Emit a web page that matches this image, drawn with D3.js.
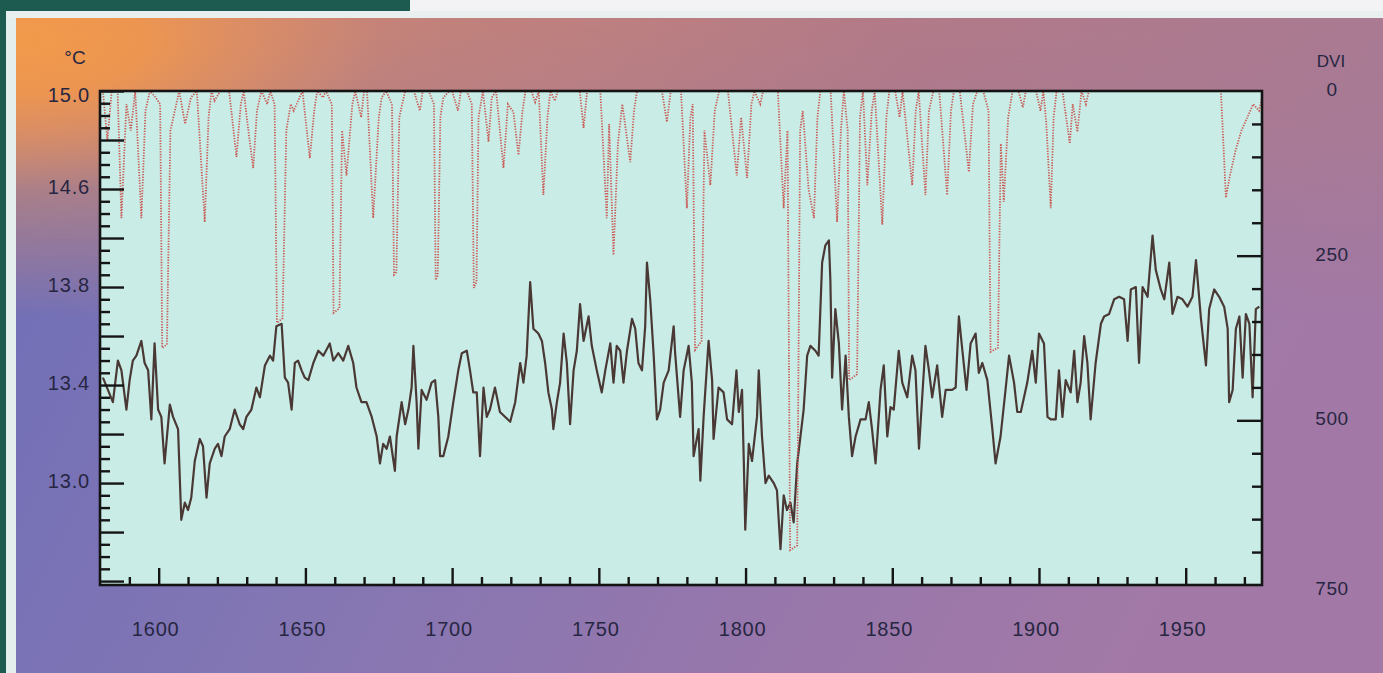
<!DOCTYPE html>
<html>
<head>
<meta charset="utf-8">
<script src="https://cdn.jsdelivr.net/npm/d3@7"></script>
<style>
html, body { margin: 0; padding: 0; overflow: hidden; background: #f3f2f5; }
text { font-family: "Liberation Sans", Arial, sans-serif; fill: #272642; }
</style>
</head>
<body>
<svg width="1383" height="673"></svg>
<script>
// temperature (deg C): [year, value]
const tempSeries = [
  [1581.0,13.43],[1584.4,13.33],[1586.1,13.50],[1587.3,13.46],[1589.0,13.30],[1590.1,13.42],[1591.2,13.50],[1592.4,13.52],
  [1594.1,13.58],[1595.2,13.49],[1596.4,13.46],[1597.5,13.26],[1598.6,13.57],[1599.8,13.30],[1600.9,13.27],[1602.0,13.08],
  [1603.8,13.32],[1604.9,13.27],[1606.6,13.22],[1607.7,12.85],[1608.9,12.92],[1610.0,12.89],[1611.1,12.94],[1612.3,13.09],
  [1614.0,13.18],[1615.1,13.15],[1616.3,12.94],[1617.4,13.08],[1619.1,13.14],[1620.2,13.16],[1621.4,13.11],[1622.5,13.19],
  [1624.2,13.22],[1625.9,13.30],[1627.6,13.24],[1628.8,13.22],[1629.9,13.27],[1631.6,13.30],[1633.3,13.39],[1634.5,13.35],
  [1636.2,13.48],[1637.9,13.52],[1639.0,13.50],[1640.1,13.64],[1641.9,13.65],[1643.0,13.43],[1644.1,13.41],[1645.3,13.30],
  [1646.4,13.49],[1647.5,13.50],[1648.7,13.46],[1649.8,13.43],[1651.0,13.42],[1652.7,13.49],[1654.4,13.54],[1656.1,13.52],
  [1658.3,13.57],[1659.5,13.50],[1661.2,13.53],[1662.9,13.50],[1664.6,13.56],[1666.3,13.49],[1667.4,13.39],[1669.1,13.33],
  [1670.8,13.33],[1672.6,13.27],[1674.3,13.19],[1675.4,13.08],[1676.5,13.16],[1677.7,13.14],[1678.8,13.19],[1680.5,13.05],
  [1681.1,13.19],[1682.8,13.33],[1684.0,13.24],[1685.1,13.30],[1686.2,13.39],[1686.8,13.56],[1687.9,13.33],[1688.5,13.14],
  [1689.6,13.38],[1691.3,13.34],[1693.0,13.41],[1694.2,13.42],[1695.3,13.27],[1695.9,13.11],[1697.0,13.11],[1698.7,13.19],
  [1700.4,13.33],[1702.1,13.46],[1703.3,13.53],[1705.0,13.54],[1706.1,13.46],[1707.2,13.37],[1708.4,13.37],[1709.5,13.11],
  [1710.7,13.39],[1711.8,13.27],[1712.9,13.30],[1714.6,13.39],[1716.3,13.29],[1719.8,13.25],[1721.5,13.33],[1723.2,13.49],
  [1724.3,13.41],[1725.4,13.52],[1726.6,13.82],[1727.7,13.63],[1729.4,13.61],[1730.6,13.58],[1731.7,13.49],[1732.8,13.37],
  [1734.0,13.30],[1734.5,13.22],[1735.7,13.33],[1736.8,13.41],[1738.0,13.61],[1739.1,13.49],[1740.2,13.24],[1741.4,13.46],
  [1742.5,13.54],[1743.6,13.73],[1744.8,13.58],[1746.5,13.68],[1747.6,13.56],[1749.3,13.46],[1751.0,13.37],[1752.2,13.46],
  [1753.9,13.57],[1755.0,13.41],[1756.1,13.56],[1757.3,13.54],[1758.4,13.41],[1759.6,13.54],[1761.3,13.67],[1762.4,13.63],
  [1763.5,13.49],[1764.7,13.46],[1765.8,13.64],[1766.4,13.90],[1767.5,13.75],[1768.7,13.52],[1769.8,13.26],[1770.9,13.30],
  [1772.1,13.41],[1773.8,13.46],[1775.5,13.64],[1776.0,13.53],[1777.7,13.27],[1778.9,13.46],[1780.6,13.56],[1781.7,13.41],
  [1782.3,13.11],[1784.0,13.22],[1784.6,13.01],[1785.7,13.27],[1787.4,13.58],[1788.6,13.42],[1789.1,13.18],[1790.8,13.39],
  [1792.5,13.37],[1793.7,13.26],[1795.4,13.24],[1796.9,13.46],[1797.7,13.29],[1798.8,13.38],[1799.4,13.09],[1799.9,12.81],
  [1801.1,13.16],[1802.2,13.09],[1803.9,13.27],[1804.5,13.46],[1805.6,13.19],[1806.8,13.00],[1807.9,13.03],[1809.6,13.00],
  [1810.7,12.97],[1811.9,12.73],[1813.0,12.95],[1814.1,12.89],[1815.3,12.92],[1816.4,12.84],[1817.6,13.08],[1818.7,13.19],
  [1819.8,13.30],[1821.0,13.52],[1822.1,13.56],[1823.8,13.54],[1824.9,13.52],[1826.1,13.90],[1827.2,13.97],[1828.4,13.99],
  [1828.9,13.83],[1829.5,13.43],[1830.6,13.71],[1831.8,13.57],[1832.9,13.30],[1834.1,13.52],[1835.2,13.27],[1836.3,13.11],
  [1837.5,13.19],[1839.2,13.26],[1840.9,13.26],[1842.0,13.33],[1843.1,13.22],[1844.3,13.08],[1845.4,13.27],[1846.0,13.38],
  [1847.1,13.48],[1848.3,13.19],[1849.4,13.31],[1850.5,13.30],[1852.2,13.54],[1853.4,13.41],[1855.1,13.35],[1856.8,13.52],
  [1857.9,13.46],[1859.1,13.14],[1860.2,13.35],[1861.3,13.56],[1862.5,13.46],[1863.6,13.35],[1865.3,13.48],[1867.0,13.27],
  [1868.2,13.38],[1870.4,13.38],[1871.6,13.39],[1872.7,13.68],[1873.9,13.54],[1875.3,13.38],[1876.7,13.57],[1878.4,13.61],
  [1879.5,13.45],[1880.7,13.49],[1882.4,13.42],[1884.1,13.22],[1885.2,13.08],[1886.9,13.19],[1888.6,13.38],[1889.8,13.52],
  [1891.5,13.41],[1892.6,13.29],[1893.8,13.29],[1896.0,13.41],[1897.7,13.54],[1898.9,13.41],[1900.0,13.61],[1901.7,13.57],
  [1902.9,13.27],[1904.0,13.26],[1905.7,13.26],[1906.8,13.46],[1908.0,13.27],[1909.1,13.42],[1910.8,13.37],[1912.0,13.54],
  [1913.1,13.33],[1914.2,13.41],[1915.4,13.60],[1916.5,13.49],[1917.6,13.26],[1919.3,13.49],[1921.1,13.65],[1922.2,13.68],
  [1923.9,13.69],[1925.6,13.75],[1927.3,13.76],[1929.0,13.75],[1930.2,13.58],[1931.3,13.79],[1933.0,13.80],[1934.1,13.49],
  [1935.3,13.80],[1937.0,13.76],[1938.7,14.01],[1939.8,13.87],[1941.5,13.79],[1942.7,13.75],[1944.4,13.90],[1945.5,13.69],
  [1947.2,13.76],[1948.9,13.75],[1950.6,13.72],[1952.3,13.76],[1953.5,13.91],[1955.2,13.67],[1956.9,13.48],[1958.0,13.71],
  [1959.7,13.79],[1961.4,13.76],[1963.1,13.72],[1964.3,13.63],[1964.8,13.33],[1966.0,13.38],[1967.1,13.63],[1968.3,13.68],
  [1969.4,13.43],[1970.5,13.69],[1971.7,13.65],[1972.8,13.35],[1973.9,13.71],[1975.1,13.72]
];

// dust veil index: [year, DVI]
const dviSeries = [
  [1580,0],[1581,0],[1582.5,75],[1584,0],[1586,0],[1587.3,193],[1589,20],[1590.5,60],[1592,0],[1594.1,193],[1595.5,30],
  [1597,0],[1599,10],[1600.5,20],[1601.2,390],[1602.8,385],[1604,60],[1606,20],[1607,0],[1609,50],[1611,10],[1613,0],
  [1615.7,199],[1617,40],[1618,0],[1619,15],[1621,0],[1624,0],[1626.5,100],[1628,20],[1629,0],[1630,40],[1632.2,117],
  [1633.5,30],[1635,0],[1637,20],[1638,0],[1639.5,20],[1640.3,352],[1642.2,345],[1643.5,60],[1645,20],[1646,30],[1648,10],
  [1649,0],[1651.5,102],[1653,30],[1654,0],[1656,10],[1657,0],[1659,20],[1659.6,337],[1661.6,330],[1662.5,60],[1664,128],
  [1666,20],[1667,0],[1669,40],[1670,0],[1671,0],[1673.1,193],[1675,40],[1676,10],[1677.5,0],[1679.5,20],[1680.2,279],
  [1681,275],[1682,40],[1684,0],[1687,0],[1689,30],[1690,0],[1692,0],[1693.8,20],[1694.4,287],[1695.1,280],[1696,40],
  [1697,10],[1699,0],[1700,0],[1702,30],[1703,0],[1705,0],[1706.7,20],[1707.4,299],[1708.3,290],[1709,40],[1710.5,0],
  [1712.4,77],[1713.5,10],[1715,0],[1717.5,117],[1719,20],[1720.9,32],[1722.6,97],[1724,30],[1725,0],[1727,0],[1728.3,17],
  [1729.5,0],[1731.1,158],[1732.5,40],[1733.5,0],[1735,15],[1736,0],[1743.5,0],[1744.8,56],[1746,0],[1750.5,0],[1752.7,193],
  [1753.5,50],[1755,249],[1756.5,80],[1758,20],[1760.7,108],[1762,30],[1763,0],[1771.5,0],[1773.2,47],[1774.5,0],[1778,0],
  [1780,178],[1781.2,40],[1782,20],[1782.8,393],[1785,380],[1786,60],[1788,143],[1789.5,30],[1791,0],[1794,0],[1797,128],
  [1798.5,40],[1800.5,132],[1802,20],[1803,0],[1805,20],[1806,0],[1811,0],[1813,178],[1814.3,60],[1815.2,697],[1817.6,690],
  [1818.6,60],[1819.5,30],[1821.5,150],[1823.3,193],[1824.5,40],[1825.5,0],[1829,0],[1831.2,199],[1832.5,60],[1833.5,0],
  [1834.8,60],[1835.3,439],[1838,430],[1839,40],[1840,0],[1841.5,143],[1843,30],[1844,0],[1846.6,203],[1848,40],[1849,0],
  [1851,0],[1852.5,40],[1853.5,0],[1856.8,143],[1858,30],[1859,0],[1861.3,158],[1862.5,30],[1864,0],[1866,0],[1868.7,158],
  [1870,30],[1871,0],[1873,0],[1876.1,123],[1877.5,20],[1879,0],[1881,0],[1882.8,30],[1883.5,396],[1886,390],[1887,80],
  [1888,168],[1889.5,40],[1891,0],[1893,0],[1894.5,25],[1895.5,0],[1899,0],[1900.5,30],[1901.5,0],[1902.5,50],[1904,178],
  [1905,40],[1906,0],[1908,0],[1910.5,80],[1911.5,20],[1913.1,62],[1914.5,0],[1916,20],[1917,0],[1962,0],[1963.7,162],
  [1965,130],[1967,90],[1969,60],[1971,40],[1973,20],[1975,30],[1976,10]
];

// axis labels as printed on the chart
const yearLabels = [1600, 1650, 1700, 1750, 1800, 1850, 1900, 1950];
const tempTickValues = [14.6, 14.2, 13.8, 13.4, 13.0];
const tempTickLabels = ["15.0", "14.6", "13.8", "13.4", "13.0"];
const dviLabels = [0, 250, 500, 750];

const svg = d3.select('svg');
const width = +svg.attr('width');
const height = +svg.attr('height');
const plot = { left: 100, right: 1262, top: 91, bottom: 585 };

const x = d3.scaleLinear().domain([1580, 1976]).range([plot.left, plot.right]);
const yT = d3.scaleLinear().domain([12.584, 14.6]).range([plot.bottom, plot.top]);
const yD = d3.scaleLinear().domain([0, 750]).range([plot.top, plot.bottom]);

///////////////////////// background /////////////////////////
const defs = svg.append('defs');

const base = defs.append('linearGradient').attr('id', 'base')
  .attr('x1', 0).attr('y1', 0).attr('x2', 1).attr('y2', 0.25);
base.append('stop').attr('offset', '0%').attr('stop-color', '#6d6eb9');
base.append('stop').attr('offset', '40%').attr('stop-color', '#8376b3');
base.append('stop').attr('offset', '75%').attr('stop-color', '#9877ab');
base.append('stop').attr('offset', '100%').attr('stop-color', '#a279a6');

const band = defs.append('linearGradient').attr('id', 'band')
  .attr('x1', 0).attr('y1', 0).attr('x2', 1).attr('y2', 0);
band.append('stop').attr('offset', '0%').attr('stop-color', '#d98c62');
band.append('stop').attr('offset', '30%').attr('stop-color', '#c3827a');
band.append('stop').attr('offset', '65%').attr('stop-color', '#b27a88');
band.append('stop').attr('offset', '100%').attr('stop-color', '#a97a92');

const fade = defs.append('linearGradient').attr('id', 'fade')
  .attr('x1', 0).attr('y1', 0).attr('x2', 0).attr('y2', 1);
fade.append('stop').attr('offset', '0%').attr('stop-color', '#fff').attr('stop-opacity', 1);
fade.append('stop').attr('offset', '35%').attr('stop-color', '#fff').attr('stop-opacity', 0.85);
fade.append('stop').attr('offset', '100%').attr('stop-color', '#fff').attr('stop-opacity', 0);
defs.append('mask').attr('id', 'bandMask')
  .append('rect').attr('x', 0).attr('y', 18).attr('width', width).attr('height', 300)
  .attr('fill', 'url(#fade)');

const orange = defs.append('radialGradient').attr('id', 'orange')
  .attr('gradientUnits', 'userSpaceOnUse')
  .attr('cx', 20).attr('cy', 40).attr('r', 360)
  .attr('gradientTransform', 'translate(20,40) scale(1,0.42) translate(-20,-40)');
orange.append('stop').attr('offset', '0%').attr('stop-color', '#f29a4a').attr('stop-opacity', 1);
orange.append('stop').attr('offset', '35%').attr('stop-color', '#ee9650').attr('stop-opacity', 0.95);
orange.append('stop').attr('offset', '100%').attr('stop-color', '#e0906a').attr('stop-opacity', 0);

svg.append('rect').attr('width', width).attr('height', height).attr('fill', '#f3f2f5');
svg.append('rect').attr('x', 16).attr('y', 18).attr('width', width - 16).attr('height', height - 18)
  .attr('fill', 'url(#base)');
svg.append('rect').attr('x', 16).attr('y', 18).attr('width', width - 16).attr('height', 300)
  .attr('fill', 'url(#band)').attr('mask', 'url(#bandMask)');
svg.append('rect').attr('x', 16).attr('y', 18).attr('width', 700).attr('height', 300)
  .attr('fill', 'url(#orange)');

// dark frame pieces and pale edge at the top-left
svg.append('rect').attr('x', 0).attr('y', 0).attr('width', 410).attr('height', 11).attr('fill', '#1d5b51');
svg.append('rect').attr('x', 0).attr('y', 0).attr('width', 6).attr('height', height).attr('fill', '#1d5b51');
svg.append('rect').attr('x', 6).attr('y', 11).attr('width', 10).attr('height', height - 11).attr('fill', '#e4eeec');
svg.append('rect').attr('x', 6).attr('y', 11).attr('width', width - 6).attr('height', 7).attr('fill', '#e9eeee');

///////////////////////// plot area /////////////////////////
svg.append('rect')
  .attr('x', plot.left).attr('y', plot.top)
  .attr('width', plot.right - plot.left).attr('height', plot.bottom - plot.top)
  .attr('fill', '#c9ede6');

defs.append('clipPath').attr('id', 'clip')
  .append('rect')
  .attr('x', plot.left).attr('y', plot.top)
  .attr('width', plot.right - plot.left).attr('height', plot.bottom - plot.top);

const g = svg.append('g').attr('clip-path', 'url(#clip)');

const tempLine = d3.line().x(d => x(d[0])).y(d => yT(d[1]));
g.append('path').datum(tempSeries)
  .attr('d', tempLine)
  .attr('fill', 'none')
  .attr('stroke', '#4a3835')
  .attr('stroke-width', 2.2)
  .attr('stroke-linejoin', 'round');

const dviLine = d3.line().x(d => x(d[0])).y(d => yD(d[1]));
g.append('path').datum(dviSeries)
  .attr('d', dviLine)
  .attr('fill', 'none')
  .attr('stroke', '#c95a55')
  .attr('stroke-width', 1.8)
  .attr('stroke-dasharray', '1.3,1.4');

///////////////////////// ticks /////////////////////////
const drawTicks = (axis, tx, ty) => {
  const a = svg.append('g').attr('transform', `translate(${tx},${ty})`).call(axis);
  a.select('.domain').remove();
  a.selectAll('.tick line').attr('stroke', '#151515').attr('stroke-width', 2.4);
  a.selectAll('.tick text').remove();
};

const tempMinor = d3.range(252, 293).map(i => i / 20);
const isMajorT = v => Math.abs(v * 5 - Math.round(v * 5)) < 1e-6;
drawTicks(d3.axisRight(yT).tickValues(tempMinor.filter(v => !isMajorT(v))).tickSize(10), plot.left, 0);
drawTicks(d3.axisRight(yT).tickValues(tempMinor.filter(isMajorT)).tickSize(24), plot.left, 0);

const yearTicks = d3.range(1590, 1980, 10);
drawTicks(d3.axisTop(x).tickValues(yearTicks.filter(v => v % 50 !== 0)).tickSize(8), 0, plot.bottom);
drawTicks(d3.axisTop(x).tickValues(yearTicks.filter(v => v % 50 === 0)).tickSize(17), 0, plot.bottom);

const dviTicks = d3.range(50, 750, 50);
drawTicks(d3.axisLeft(yD).tickValues(dviTicks.filter(v => v % 250 !== 0)).tickSize(10), plot.right, 0);
drawTicks(d3.axisLeft(yD).tickValues(dviTicks.filter(v => v % 250 === 0)).tickSize(25), plot.right, 0);

// frame
svg.append('rect')
  .attr('x', plot.left).attr('y', plot.top)
  .attr('width', plot.right - plot.left).attr('height', plot.bottom - plot.top)
  .attr('fill', 'none').attr('stroke', '#141414').attr('stroke-width', 2.6);

///////////////////////// labels /////////////////////////
svg.append('g').selectAll('text')
  .data(yearLabels).enter().append('text')
  .attr('x', d => x(d) - 3)
  .attr('y', 631)
  .attr('text-anchor', 'middle')
  .attr('dominant-baseline', 'middle')
  .attr('font-size', 20)
  .attr('letter-spacing', 0.8)
  .text(d => d);

svg.append('g').selectAll('text')
  .data(tempTickValues).enter().append('text')
  .attr('x', 90)
  .attr('y', d => Math.max(yT(d), 97))
  .attr('text-anchor', 'end')
  .attr('dominant-baseline', 'middle')
  .attr('font-size', 20)
  .attr('letter-spacing', 0.8)
  .text((d, i) => tempTickLabels[i]);

svg.append('g').selectAll('text')
  .data(dviLabels).enter().append('text')
  .attr('x', 1332)
  .attr('y', d => yD(d) + (d === 750 ? 5 : 0))
  .attr('text-anchor', 'middle')
  .attr('dominant-baseline', 'middle')
  .attr('font-size', 19)
  .attr('letter-spacing', 0.6)
  .text(d => d);

svg.append('text').attr('x', 75).attr('y', 59)
  .attr('text-anchor', 'middle').attr('dominant-baseline', 'middle')
  .attr('font-size', 19).text('°C');
svg.append('text').attr('x', 1331).attr('y', 63)
  .attr('text-anchor', 'middle').attr('dominant-baseline', 'middle')
  .attr('font-size', 17).text('DVI');
</script>
</body>
</html>
